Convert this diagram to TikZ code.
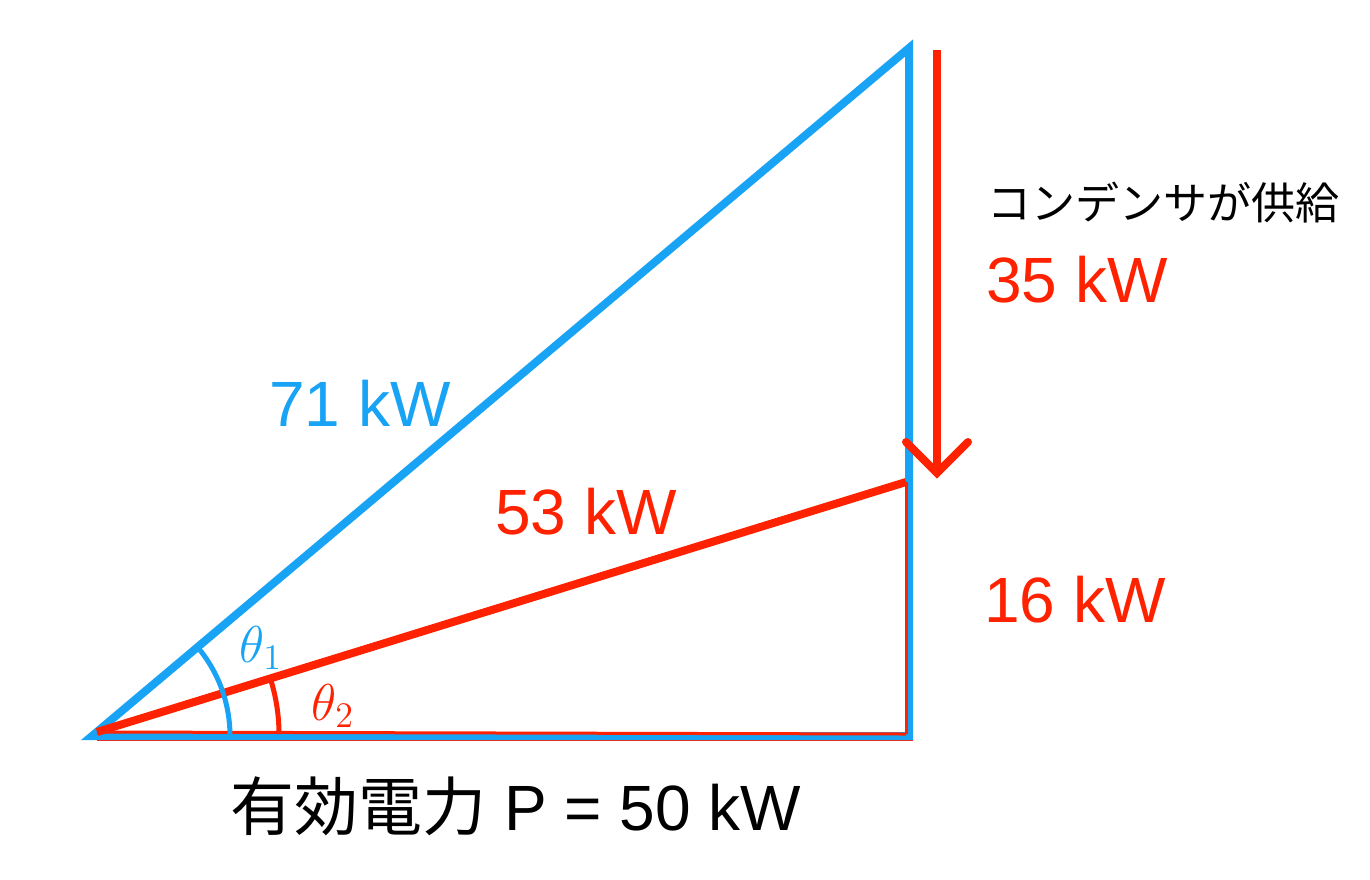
\documentclass[tikz,border=0pt]{standalone}
\usepackage{fontspec}
\setmainfont{Liberation Sans}
\newfontfamily\jp{Noto Sans CJK JP}
\definecolor{cblue}{RGB}{24,163,245}
\definecolor{cred}{RGB}{255,34,0}
\begin{document}
\begin{tikzpicture}[x=1pt,y=-1pt,
  blueline/.style={draw=cblue,line width=8pt,line join=miter},
  redline/.style={draw=cred,line width=8pt},
  lbl/.style={inner sep=0pt,anchor=center},
  big/.style={font=\fontsize{64}{70}\selectfont},
  mid/.style={font=\jp\fontsize{44}{50}\selectfont},
  ang/.style={font=\huge,scale=2.5}]
\fill[white] (0,0) rectangle (1370,879);
\useasboundingbox (0,0) rectangle (1370,879);
% vertices
\coordinate (A) at (92,736);
\coordinate (B) at (909,736);
\coordinate (C) at (909,48);
\coordinate (Ar) at (97,732);
\coordinate (Br) at (906,734);
\coordinate (Cr) at (906,482);
\coordinate (Bl) at (97,739);
\coordinate (Bl2) at (911,739);
\coordinate (S1) at (937,50);
\coordinate (S2) at (937,470);
\coordinate (T0) at (906,442);
\coordinate (T1) at (937,473);
\coordinate (T2) at (968,442);
% bottom red underline
\draw[draw=cred,line width=4pt] (Bl) -- (Bl2) -- (911,482);
% blue triangle
\draw[blueline] (A) -- (B) -- (C) -- cycle;
% red triangle
\draw[draw=cred,line width=3pt] (Br) -- (Cr);
\draw[draw=cred,line width=3pt] (Ar) -- (Br);
\draw[redline] (Ar) -- (Cr);
% arrow
\draw[redline,line cap=butt] (S1) -- (S2);
\draw[redline,line cap=round,line join=miter] (T0) -- (T1) -- (T2);
% angle arcs
\draw[cblue,line width=5pt] (230,736) arc[start angle=0,end angle=-40.1,radius=138];
\draw[cred,line width=5pt] (279,734) arc[start angle=0,end angle=-17.2,radius=182];
% labels
\node[lbl,text=cblue,ang] (t1) at (261,648) {$\theta_1$};
\node[lbl,text=cred,ang] (t2) at (333,706) {$\theta_2$};
\node[lbl,text=cblue,big] (l71) at (360,403) {71 kW};
\node[lbl,text=cred,big] (l53) at (586,512) {53 kW};
\node[lbl,text=cred,big] (l16) at (1075,600) {16 kW};
\node[lbl,text=cred,big,anchor=west] (l35) at (986,280) {35 kW};
\node[lbl,mid,anchor=west] (lc) at (987,203) {コンデンサが供給};
\node[lbl,big] (lp) at (516,806) {{\jp 有効電力} P = 50 kW};
\end{tikzpicture}
\end{document}
